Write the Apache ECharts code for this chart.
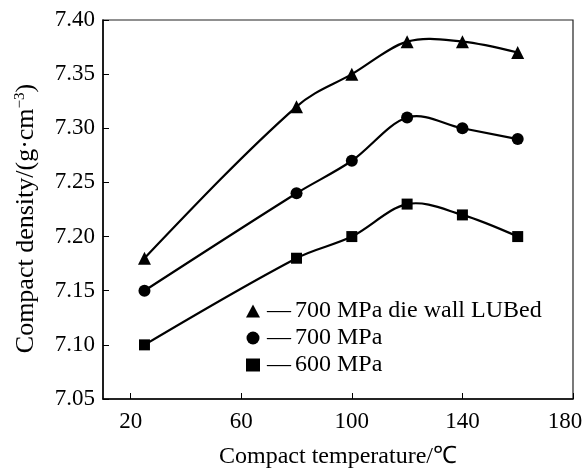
<!DOCTYPE html>
<html>
<head>
<meta charset="utf-8">
<script src="https://cdn.jsdelivr.net/npm/echarts@6/dist/echarts.min.js"></script>
<style>html,body{margin:0;padding:0;background:#fff}#c{width:584px;height:470px}</style>
</head>
<body>
<div id="c"></div>
<script>
var temps = [25, 80, 100, 120, 140, 160];
var lubed700 = [7.18, 7.32, 7.35, 7.38, 7.38, 7.37];
var mpa700 = [7.15, 7.24, 7.27, 7.31, 7.30, 7.29];
var mpa600 = [7.10, 7.18, 7.20, 7.23, 7.22, 7.20];
var seriesNames = ['700 MPa die wall LUBed', '700 MPa', '600 MPa'];
var xTicks = [20, 60, 100, 140, 180];
var yTicks = [7.05, 7.10, 7.15, 7.20, 7.25, 7.30, 7.35, 7.40];

function pairs(xs, ys) { return xs.map(function (x, i) { return [x, ys[i]]; }); }

var font = 'Liberation Serif';
var chart = echarts.init(document.getElementById('c'), null, {renderer: 'canvas'});
var symbols = ['triangle', 'circle', 'rect'];
var sizes = [13, 12, 11];
var datas = [lubed700, mpa700, mpa600];

// smooth Hermite curve through the points, in pixel space via the axis scales
function curveRenderer(ys) {
  return function (params, api) {
    if (params.dataIndex !== 0) return null;
    var p = temps.map(function (x, i) { return api.coord([x, ys[i]]); });
    var n = p.length, s = [];
    var chord = [];
    for (var i = 0; i < n - 1; i++) chord.push((p[i + 1][1] - p[i][1]) / (p[i + 1][0] - p[i][0]));
    for (var i = 1; i < n - 1; i++) s[i] = (p[i + 1][1] - p[i - 1][1]) / (p[i + 1][0] - p[i - 1][0]);
    s[0] = (3 * chord[0] - s[1]) / 2;
    s[n - 1] = (3 * chord[n - 2] - s[n - 2]) / 2;
    var children = [];
    for (var i = 0; i < n - 1; i++) {
      var h = (p[i + 1][0] - p[i][0]) / 3;
      children.push({
        type: 'bezierCurve',
        shape: {
          x1: p[i][0], y1: p[i][1], x2: p[i + 1][0], y2: p[i + 1][1],
          cpx1: p[i][0] + h, cpy1: p[i][1] + s[i] * h,
          cpx2: p[i + 1][0] - h, cpy2: p[i + 1][1] - s[i + 1] * h
        },
        style: {stroke: '#000', lineWidth: 2.2, fill: null}
      });
    }
    return {type: 'group', children: children};
  };
}

var series = [];
seriesNames.forEach(function (n, i) {
  series.push({
    name: n + ' curve', type: 'custom', z: 1,
    data: pairs(temps, datas[i]),
    renderItem: curveRenderer(datas[i])
  });
});
seriesNames.forEach(function (n, i) {
  series.push({
    name: n, type: 'line', z: 3,
    data: pairs(temps, datas[i]),
    symbol: symbols[i], symbolSize: sizes[i],
    itemStyle: {color: '#000'},
    lineStyle: {color: '#000', width: 0, opacity: 0}
  });
});

chart.setOption({
  animation: false,
  backgroundColor: '#fff',
  grid: {left: 103, right: 11, top: 20, bottom: 71, show: true, borderColor: '#222', borderWidth: 1.2,
    containLabel: false, outerBoundsMode: 'none'},
  legend: {
    orient: 'vertical', left: 241, top: 293, itemGap: 1,
    itemWidth: 14, itemHeight: 13,
    data: seriesNames.map(function (n, i) { return {name: n, icon: symbols[i]}; }),
    formatter: function (n) { return '{d|\u2014}{t|' + n + '}'; },
    textStyle: {fontFamily: font, fontSize: 24, color: '#000', lineHeight: 26,
      rich: {
        d: {fontFamily: font, fontSize: 24, color: '#000', padding: [0, 4, 0, 2], lineHeight: 26},
        t: {fontFamily: font, fontSize: 24, color: '#000', lineHeight: 26}
      }}
  },
  xAxis: {
    type: 'value', min: 10, max: 180,
    name: 'Compact temperature/\u2103', nameLocation: 'middle', nameGap: 46,
    nameTextStyle: {fontFamily: font, fontSize: 24, color: '#000'},
    axisLine: {lineStyle: {color: '#000', width: 1.5}},
    axisTick: {inside: true, length: 6, customValues: xTicks, lineStyle: {color: '#000'}},
    axisLabel: {customValues: xTicks, fontFamily: font, fontSize: 23, color: '#000', margin: 11,
      formatter: function (v) { return v === 180 ? '{m|' + v + '}' : String(v); },
      rich: {m: {fontFamily: font, fontSize: 23, color: '#000', padding: [0, 16, 0, 0]}}},
    splitLine: {show: false}
  },
  yAxis: {
    type: 'value', min: 7.05, max: 7.40, interval: 0.05,
    name: '{a|Compact density/(g\u00b7cm}{s|\u22123}{a|)}', nameLocation: 'middle', nameGap: 63,
    nameTextStyle: {fontFamily: font, fontSize: 26, color: '#000', padding: [0, 18, 0, 0],
      rich: {a: {fontFamily: font, fontSize: 26, color: '#000'}, s: {fontFamily: font, fontSize: 15, color: '#000', verticalAlign: 'top', padding: [0, 0, 12, 0]}}},
    axisLine: {lineStyle: {color: '#000', width: 1.5}},
    axisTick: {inside: true, length: 6, lineStyle: {color: '#000'}},
    axisLabel: {fontFamily: font, fontSize: 23, color: '#000', margin: 8,
      formatter: function (v) { return v.toFixed(2); }},
    splitLine: {show: false}
  },
  series: series
});
</script>
</body>
</html>
